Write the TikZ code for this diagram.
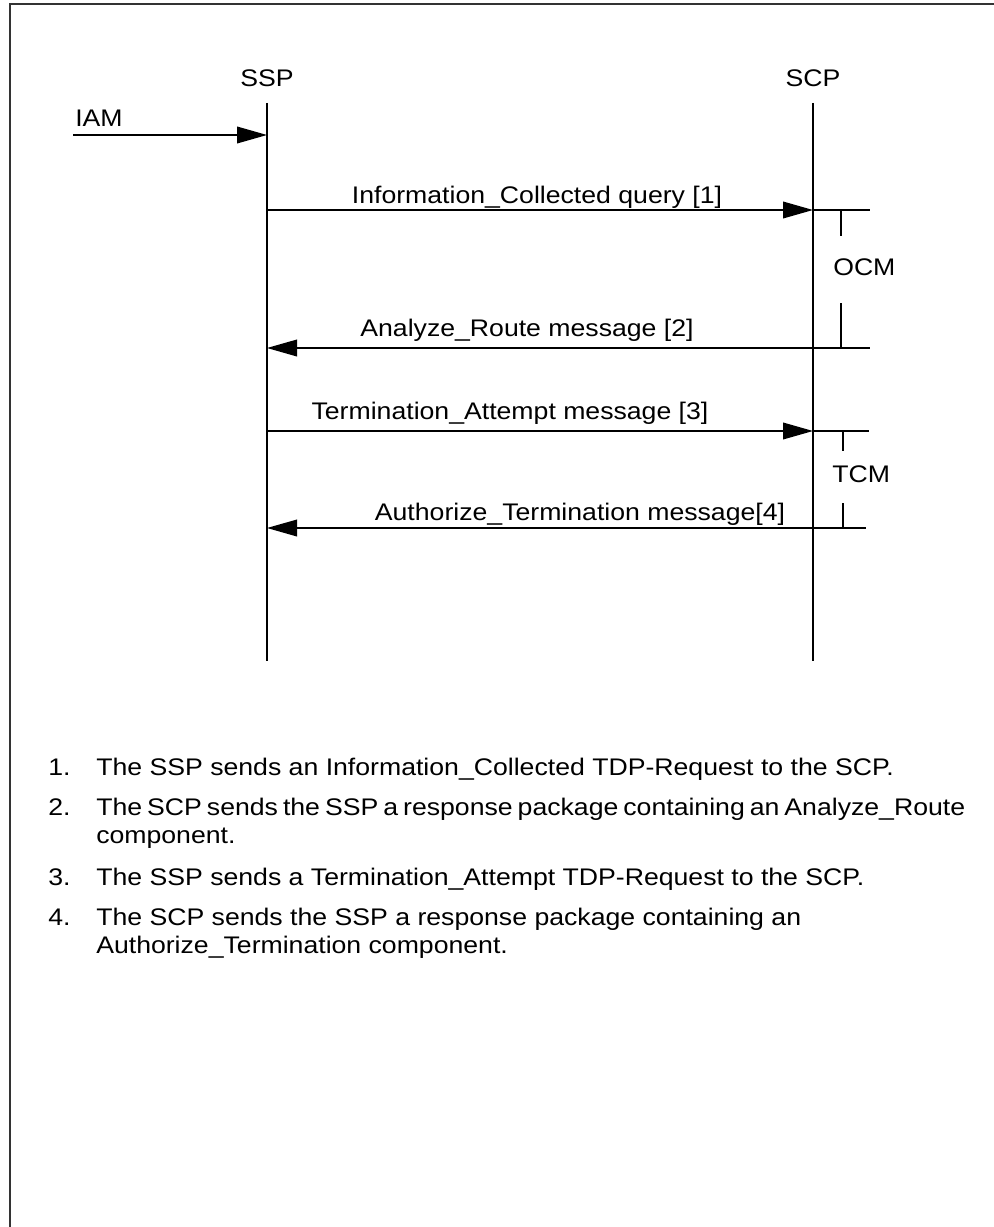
\documentclass[tikz,border=0pt]{standalone}
\usepackage{fontspec}
\setmainfont{Liberation Sans}[FakeStretch=1.11]
\usetikzlibrary{arrows.meta}
\begin{document}
\begin{tikzpicture}[x=0.75pt,y=-0.75pt,
  lbl/.style={font=\fontsize{18}{22}\selectfont, inner sep=0pt, anchor=base},
  lbw/.style={font=\fontsize{18}{22}\selectfont, inner sep=0pt, anchor=base west},
  msg/.style={line width=1.1pt, -{Triangle[length=22.5pt,width=12.5pt]}},
  life/.style={line width=1.1pt},
  brk/.style={line width=1.1pt}]
\useasboundingbox (0,0) rectangle (994,1227);
\draw[line width=1.6pt, black!80] (10,1227) -- (10,4) -- (994,4);
% lifelines
\node[lbl] (ssp) at (267,87) {SSP};
\node[lbl] (scp) at (813,87) {SCP};
\coordinate (sspT) at (267,103); \coordinate (sspB) at (267,661);
\coordinate (scpT) at (813,103); \coordinate (scpB) at (813,661);
\draw[life] (sspT) -- (sspB);
\draw[life] (scpT) -- (scpB);
% IAM
\node[lbw] (iam) at (75,127) {IAM};
\coordinate (iamS) at (73,135); \coordinate (iamE) at (267,135);
\draw[msg] (iamS) -- (iamE);
% message points
\coordinate (a1) at (267,210); \coordinate (b1) at (813,210);
\coordinate (a2) at (267,348); \coordinate (b2) at (813,348);
\coordinate (a3) at (267,431); \coordinate (b3) at (813,431);
\coordinate (a4) at (267,528); \coordinate (b4) at (813,528);
\draw[msg] (a1) -- (b1);
\draw[msg] (b2) -- (a2);
\draw[msg] (a3) -- (b3);
\draw[msg] (b4) -- (a4);
\node[lbl] (m1) at (537,203) {Information\_Collected query [1]};
\node[lbl] (m2) at (527,336) {Analyze\_Route message [2]};
\node[lbl] (m3) at (510,419) {Termination\_Attempt message [3]};
\node[lbl] (m4) at (580,520) {Authorize\_Termination message[4]};
% OCM bracket
\coordinate (o1) at (870,210); \coordinate (o2) at (870,348);
\coordinate (ot1) at (841,210); \coordinate (ot2) at (841,236);
\coordinate (ob1) at (841,303); \coordinate (ob2) at (841,348);
\draw[brk] (b1) -- (o1);
\draw[brk] (b2) -- (o2);
\draw[brk] (ot1) -- (ot2);
\draw[brk] (ob1) -- (ob2);
\node[lbw] (ocm) at (833,275) {OCM};
% TCM bracket
\coordinate (t1) at (869,431); \coordinate (t2) at (866,528);
\coordinate (tt1) at (843,431); \coordinate (tt2) at (843,451);
\coordinate (tb1) at (843,503); \coordinate (tb2) at (843,528);
\draw[brk] (b3) -- (t1);
\draw[brk] (b4) -- (t2);
\draw[brk] (tt1) -- (tt2);
\draw[brk] (tb1) -- (tb2);
\node[lbw] (tcm) at (832,482) {TCM};
% list
\node[lbw] (n1) at (48,775) {1.};
\node[lbw] (i1) at (96,775) {The SSP sends an Information\_Collected TDP-Request to the SCP.};
\node[lbw] (n2) at (48,815) {2.};
\node[lbw] (i2) at (96,815) {\spaceskip=3.75pt plus 1pt minus 1pt\relax The SCP sends the SSP a response package containing an Analyze\_Route};
\node[lbw] (i2b) at (96,843) {component.};
\node[lbw] (n3) at (48,885) {3.};
\node[lbw] (i3) at (96,885) {The SSP sends a Termination\_Attempt TDP-Request to the SCP.};
\node[lbw] (n4) at (48,925) {4.};
\node[lbw] (i4) at (96,925) {The SCP sends the SSP a response package containing an};
\node[lbw] (i4b) at (96,953) {Authorize\_Termination component.};
\end{tikzpicture}
\end{document}
